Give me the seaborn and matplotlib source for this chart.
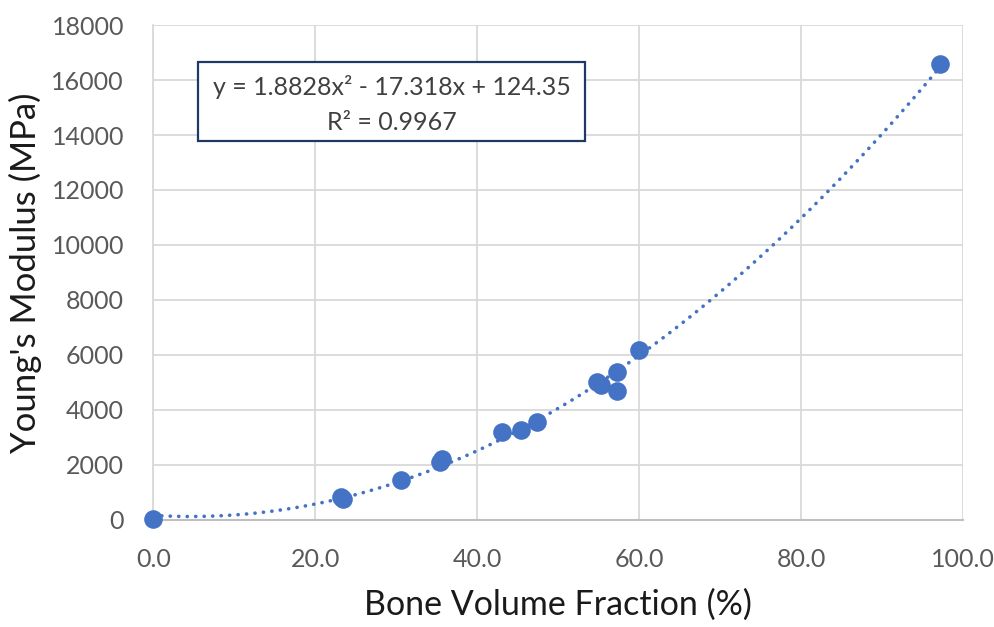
import matplotlib
matplotlib.use("Agg")
import matplotlib.pyplot as plt
from matplotlib.patches import Rectangle
import seaborn as sns
import pandas as pd

# Data
bvf = [0.0, 23.2, 23.4, 30.6, 35.4, 35.7, 43.1, 45.4, 47.4, 54.8, 55.3, 57.2, 57.2, 60.0, 97.2]
modulus = [30, 830, 740, 1460, 2100, 2200, 3180, 3270, 3575, 5000, 4920, 5390, 4700, 6160, 16600]
x_ticks = [0, 20, 40, 60, 80, 100]
y_ticks = [0, 2000, 4000, 6000, 8000, 10000, 12000, 14000, 16000, 18000]
eq_text = "y = 1.8828x\u00b2 - 17.318x + 124.35"
r2_text = "R\u00b2 = 0.9967"

df = pd.DataFrame({"bvf": bvf, "E": modulus})

sns.set_theme(style="white")
plt.rcParams["font.family"] = ["Lato", "DejaVu Sans"]

fig = plt.figure(figsize=(9.95, 6.27), dpi=100)
ax = fig.add_axes([0.154, 0.171, 0.814, 0.789])

blue = "#4472C4"
sns.regplot(data=df, x="bvf", y="E", order=2, ci=None, scatter=False, ax=ax,
            line_kws=dict(color=blue, lw=2.6, linestyle=(0, (0.05, 2.3)),
                          dash_capstyle="round", zorder=2))
sns.scatterplot(data=df, x="bvf", y="E", ax=ax, s=180, color=blue,
                edgecolor=blue, linewidth=0, zorder=3, clip_on=False)

ax.set_xlim(0, 100)
ax.set_ylim(0, 18000)
ax.set_xticks(x_ticks)
ax.set_yticks(y_ticks)
ax.set_xticklabels([f"{v:.1f}" for v in x_ticks])
ax.set_yticklabels([f"{v}" for v in y_ticks])
ax.grid(True, color="#d9d9d9", lw=1.3)
ax.set_axisbelow(True)
for s in ["top", "right"]:
    ax.spines[s].set_visible(False)
ax.spines["left"].set_color("#d9d9d9")
ax.spines["left"].set_linewidth(1.3)
ax.spines["bottom"].set_color("#bfbfbf")
ax.spines["bottom"].set_linewidth(1.5)
ax.tick_params(axis="both", length=0, labelsize=18, labelcolor="#595959")
ax.tick_params(axis="y", pad=21)
ax.tick_params(axis="x", pad=20)

ax.set_xlabel("Bone Volume Fraction (%)", fontsize=24.5, color="#1a1a1a", labelpad=13)
ax.set_ylabel("Young's Modulus (MPa)", fontsize=25, color="#1a1a1a", labelpad=7)

# Trendline label box
ax.add_patch(Rectangle((0.0552, 0.766), 0.478, 0.160, transform=ax.transAxes,
                       fc="white", ec="#1f3864", lw=1.6, zorder=5))
ax.text(0.2943, 0.8586, eq_text, transform=ax.transAxes, ha="center", va="baseline",
        fontsize=18, color="#404040", zorder=6)
ax.text(0.2943, 0.788, r2_text, transform=ax.transAxes, ha="center", va="baseline",
        fontsize=18, color="#404040", zorder=6)

fig.savefig("out.png", dpi=100)
